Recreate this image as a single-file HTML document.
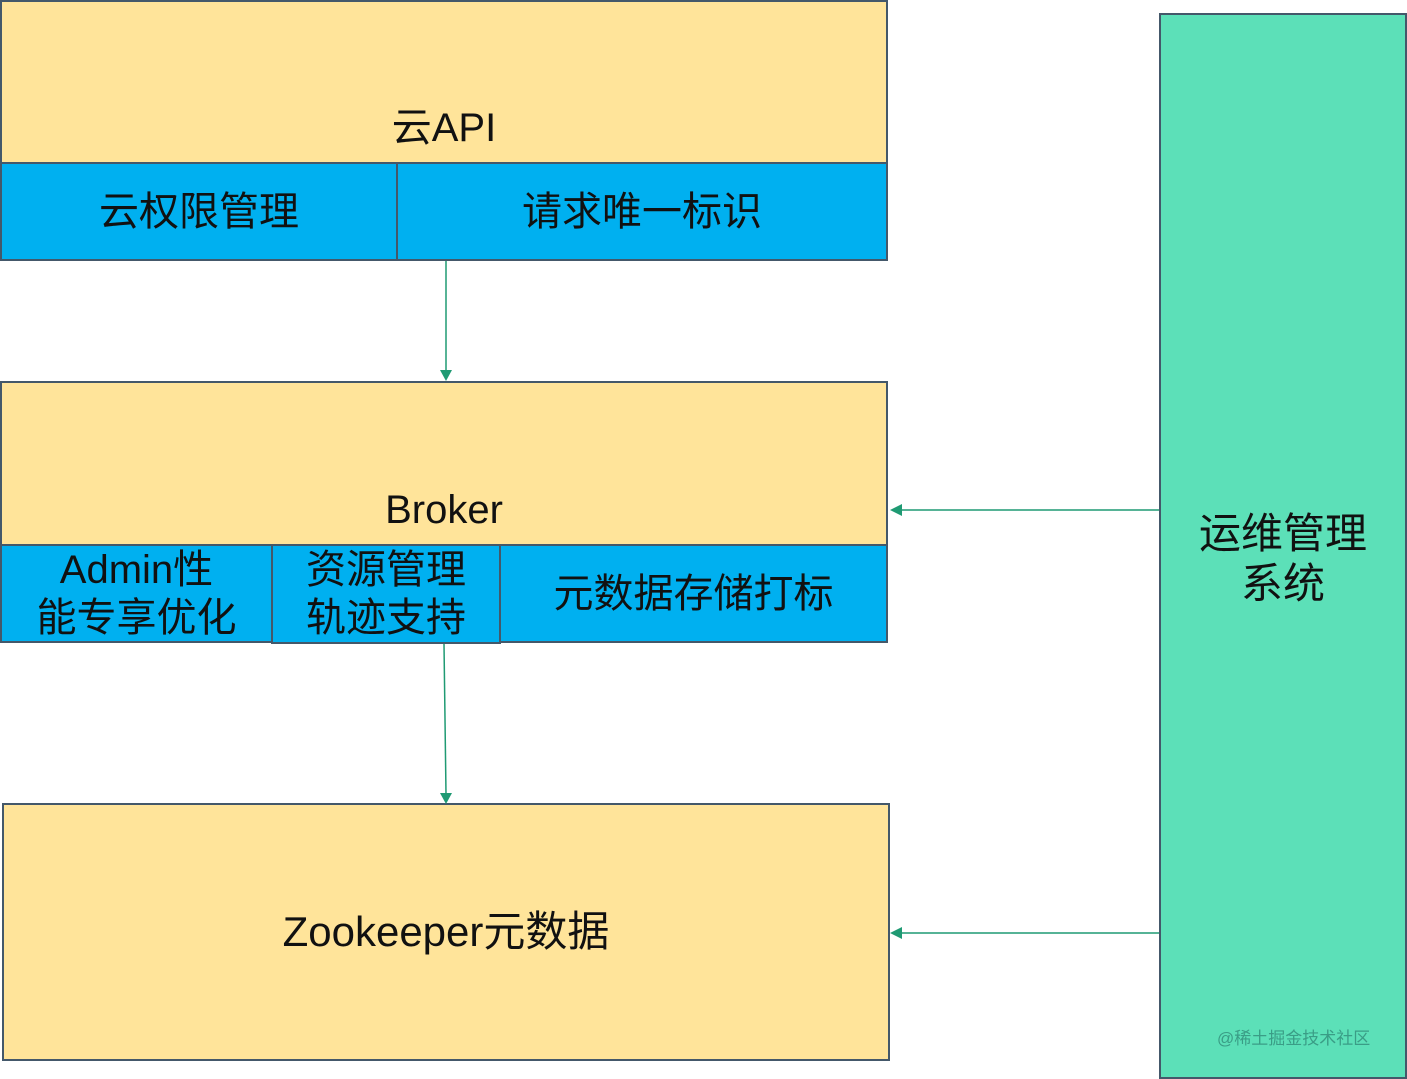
<!DOCTYPE html>
<html><head><meta charset="utf-8"><style>
body{margin:0;width:1407px;height:1079px;background:#fff;position:relative;overflow:hidden;font-family:"Liberation Sans","Noto Sans CJK SC",sans-serif;color:#111}
.b{position:absolute;box-sizing:border-box;border:2px solid #44586a;display:flex;align-items:center;justify-content:center;text-align:center;line-height:1.2}
.y{background:#ffe49a}.c{background:#00b0f0;font-size:40px}.g{background:#5ce0b8}
</style></head><body>
<div class="b y" style="left:0;top:0;width:888px;height:164px;font-size:40px;align-items:flex-end;padding-bottom:10px">云API</div>
<div class="b c" style="left:0;top:162px;width:398px;height:99px">云权限管理</div>
<div class="b c" style="left:396px;top:162px;width:492px;height:99px">请求唯一标识</div>
<div class="b y" style="left:0;top:381px;width:888px;height:165px;font-size:40px;align-items:flex-end;padding-bottom:10px">Broker</div>
<div class="b c" style="left:0;top:544px;width:273px;height:99px;line-height:48px">Admin性<br>能专享优化</div>
<div class="b c" style="left:271px;top:544px;width:230px;height:100px;line-height:48px">资源管理<br>轨迹支持</div>
<div class="b c" style="left:499px;top:544px;width:389px;height:99px">元数据存储打标</div>
<div class="b y" style="left:2px;top:803px;width:888px;height:258px;font-size:42px">Zookeeper元数据</div>
<div class="b g" style="left:1159px;top:13px;width:248px;height:1066px;font-size:42px;align-items:flex-start;padding-top:494px;line-height:50px">运维管理<br>系统
<span style="position:absolute;left:56px;top:1014px;font-size:17px;color:#3a9d86;line-height:20px">@稀土掘金技术社区</span></div>
<svg width="1407" height="1079" style="position:absolute;left:0;top:0">
<g stroke="#1f9a73" stroke-width="1.5" fill="#1f9a73">
<line x1="446" y1="261" x2="446" y2="372"/><polygon points="440,370 452,370 446,381" stroke="none"/>
<line x1="444" y1="644" x2="446" y2="794"/><polygon points="440,793 452,793 446,804" stroke="none"/>
<line x1="1159" y1="510" x2="900" y2="510"/><polygon points="890,510 902,504 902,516" stroke="none"/>
<line x1="1159" y1="933" x2="900" y2="933"/><polygon points="890,933 902,927 902,939" stroke="none"/>
</g></svg>
</body></html>
